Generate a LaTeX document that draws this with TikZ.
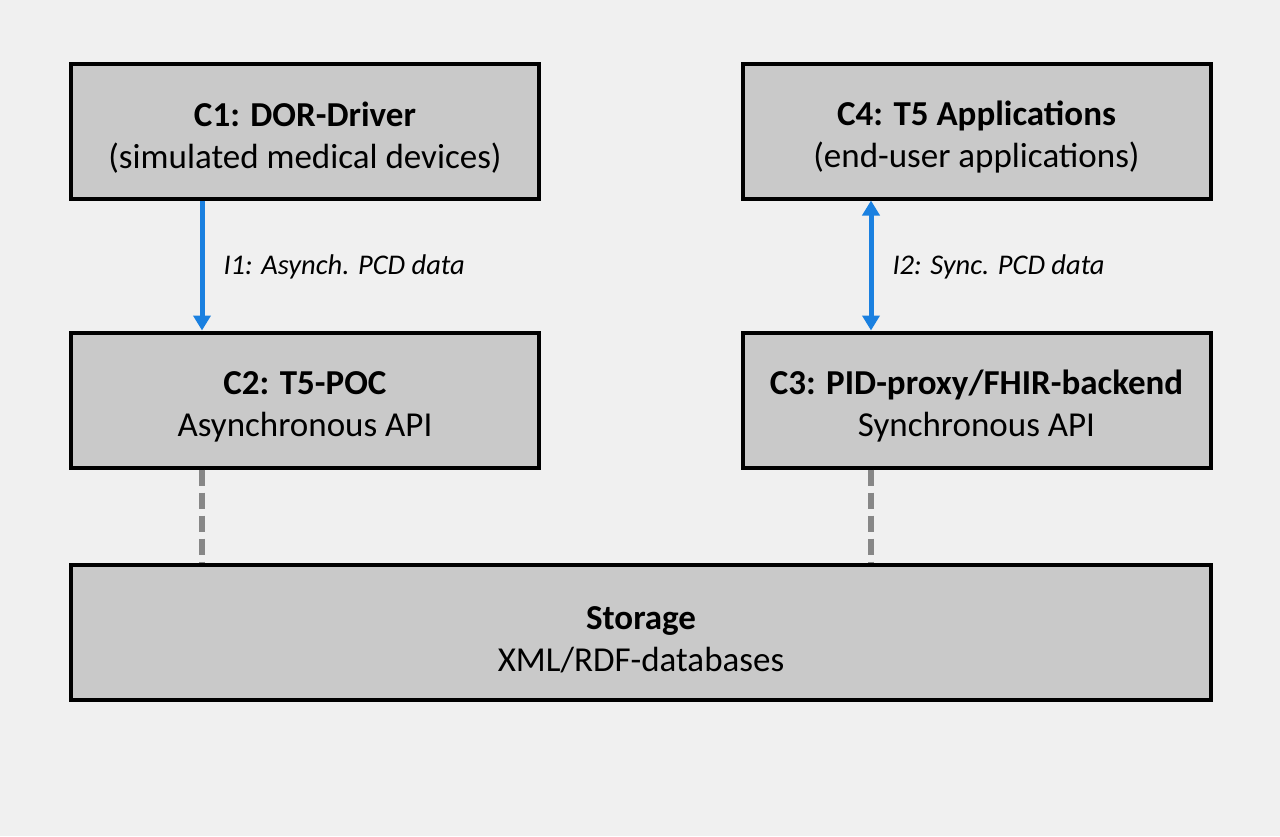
\documentclass[tikz,border=0pt]{standalone}
\usepackage{fontspec}
\setmainfont{Carlito}
\usepackage{xcolor}
\usetikzlibrary{arrows.meta, calc, positioning}

\definecolor{bgGray}{HTML}{F0F0F0}
\definecolor{boxGray}{HTML}{C9C9C9}
\definecolor{linkBlue}{HTML}{1A80E0}
\definecolor{dashGray}{HTML}{878787}

% bold first line of a component box, with a strut to push the text down a little
\newcommand{\comptitle}[1]{\rule{0pt}{37pt}\textbf{#1}}

\begin{document}
\begin{tikzpicture}[x=1pt, y=-1pt,
    compbox/.style={draw=black, line width=4pt, fill=boxGray, minimum width=468pt,
        minimum height=135pt, align=center, inner sep=0pt,
        font=\fontsize{35}{42}\selectfont},
    datalink/.style={draw=linkBlue, line width=5pt},
    storelink/.style={draw=dashGray, line width=6pt, dash pattern=on 16pt off 7pt},
    linklabel/.style={right, inner sep=0pt, xshift=19pt, yshift=-1.5pt,
        font=\fontsize{28.5}{34}\selectfont\itshape}]
    % --- Canvas ---
    \fill[bgGray] (0,0) rectangle (1280,836);
    \useasboundingbox (0,0) rectangle (1280,836);

    % --- Components ---
    \node[compbox] (c1) at (305, 131) {\comptitle{C1: DOR-Driver}\\(simulated medical devices)};
    \node[compbox] (c4) at (976.5, 131) {\comptitle{C4: T5 Applications}\\(end-user applications)};
    \node[compbox] (c2) at (305, 400) {\comptitle{C2: T5-POC}\\Asynchronous API};
    \node[compbox] (c3) at (976.5, 400) {\comptitle{C3: PID-proxy/FHIR-backend}\\Synchronous API};

    % --- Storage ---
    \node[compbox, minimum width=1140pt] (storage) at (641, 632.5) {\comptitle{Storage}\\XML/RDF-databases};

    % --- Interfaces ---
    \draw[datalink, -{Triangle[width=17pt, length=15pt]}]
        ([xshift=-103pt]c1.south) -- ([xshift=-103pt]c2.north)
        node[linklabel, midway] {I1: Asynch. PCD data};
    \draw[datalink, {Triangle[width=17pt, length=15pt]}-{Triangle[width=17pt, length=15pt]}]
        ([xshift=-105.5pt]c4.south) -- ([xshift=-105.5pt]c3.north)
        node[linklabel, midway] {I2: Sync. PCD data};

    % --- Storage links ---
    \draw[storelink] ([xshift=-103pt]c2.south) -- ([xshift=-103pt]c2.south |- storage.north);
    \draw[storelink] ([xshift=-105.5pt]c3.south) -- ([xshift=-105.5pt]c3.south |- storage.north);
\end{tikzpicture}
\end{document}
